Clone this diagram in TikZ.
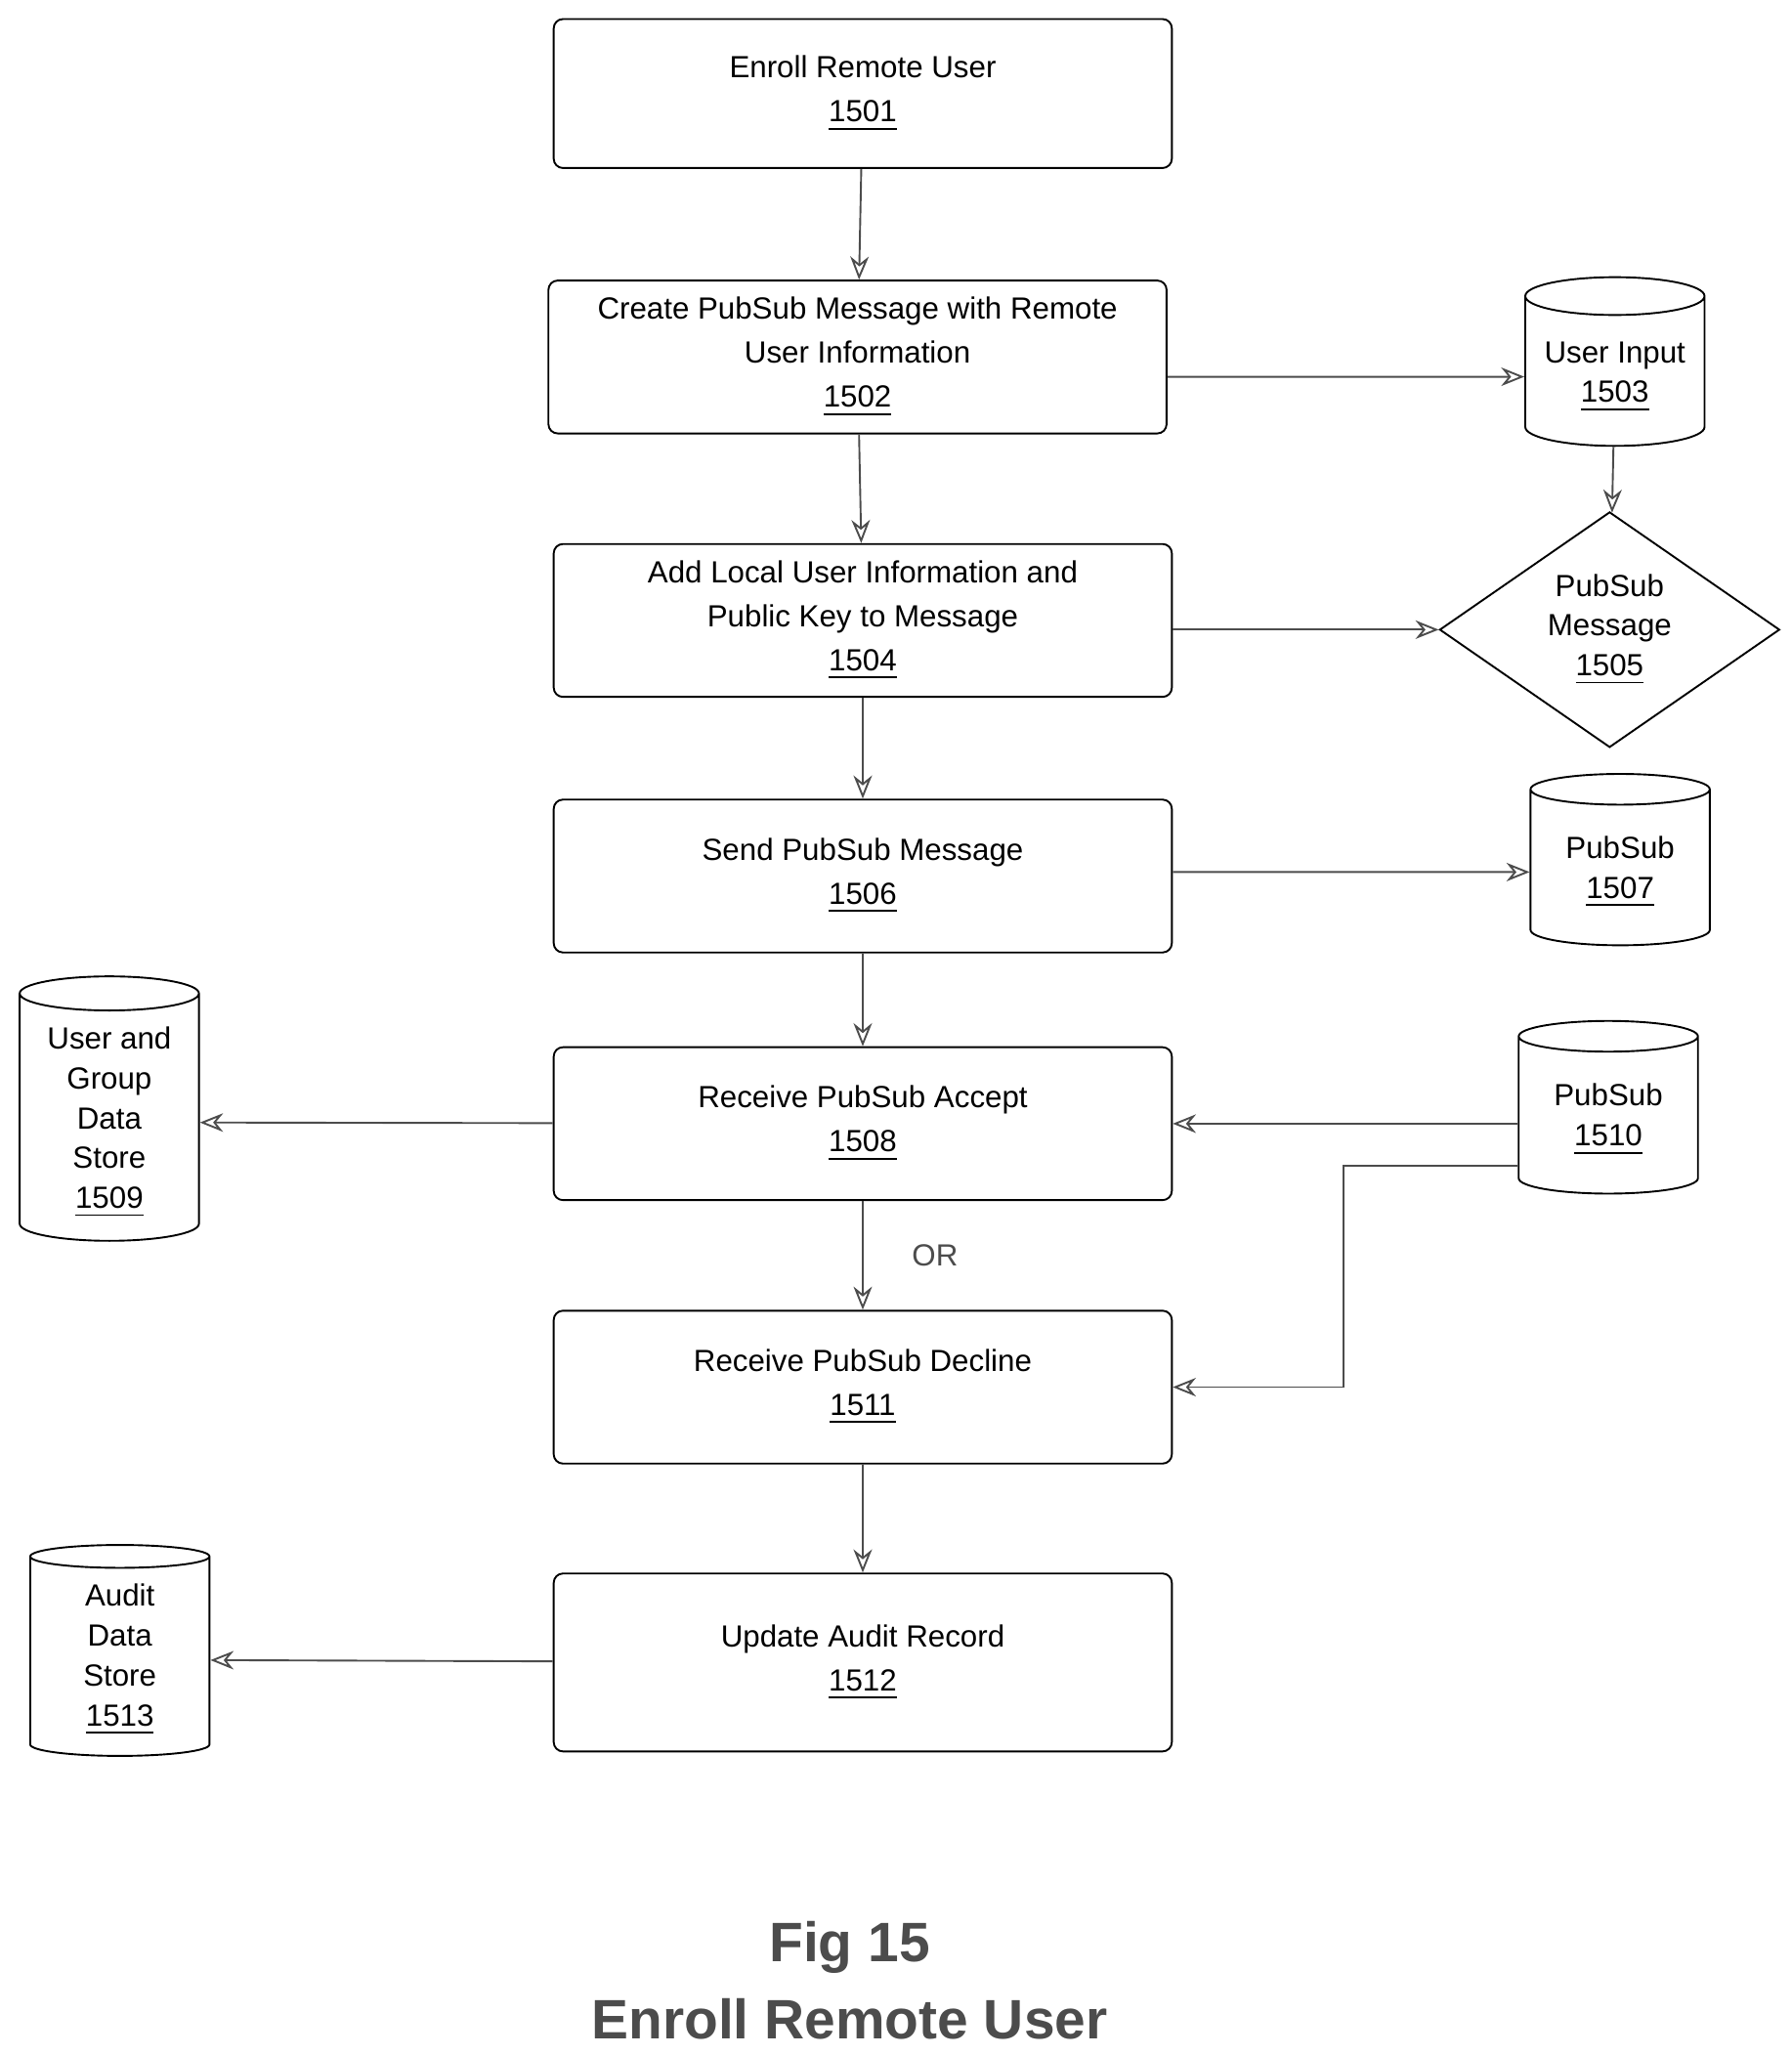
\documentclass[tikz,border=0pt]{standalone}
\usepackage{fontspec}
\setmainfont{Liberation Sans}
\usetikzlibrary{shapes.geometric,arrows.meta}
\tikzset{
  proc/.style={draw, rounded corners=2pt, align=center, font=\fontsize{6.6}{9.5}\selectfont,
    minimum width=4.69cm, minimum height=1.16cm, inner xsep=1pt},
  store/.style={draw, cylinder, shape border rotate=90, aspect=0.22, align=center,
    font=\fontsize{6.6}{8.6}\selectfont, minimum width=1.36cm},
  flow/.style={->, >={Stealth[open,length=5pt,width=4pt]}, gray!60!black}
}
\newcommand{\num}[1]{\underline{#1}}
\begin{document}
\begin{tikzpicture}[x=0.01cm, y=-0.01cm]
  \useasboundingbox (0,0) rectangle (1360,1560);
  % process steps
  \node[proc, minimum height=1.13cm] (s1501) at (655,71) {Enroll Remote User\\\num{1501}};
  \node[proc] (s1502) at (651,271) {Create PubSub Message with Remote\\User Information\\\num{1502}};
  \node[proc] (s1504) at (655,471) {Add Local User Information and\\Public Key to Message\\\num{1504}};
  \node[proc] (s1506) at (655,665) {Send PubSub Message\\\num{1506}};
  \node[proc] (s1508) at (655,853) {Receive PubSub Accept\\\num{1508}};
  \node[proc] (s1511) at (655,1053) {Receive PubSub Decline\\\num{1511}};
  \node[proc, minimum height=1.35cm] (s1512) at (655,1262) {Update Audit Record\\\num{1512}};
  % stores
  \node[store, minimum height=1.28cm] (d1503) at (1226,286) {User Input\\\num{1503}};
  \node[draw, diamond, inner sep=0pt, minimum width=2.58cm, minimum height=1.31cm, align=center,
    font=\fontsize{6.6}{8.6}\selectfont] (d1505) at (1222,478) {PubSub\\Message\\\num{1505}};
  \node[store, minimum height=1.30cm] (d1507) at (1230,662) {PubSub\\\num{1507}};
  \node[store, minimum height=2.0cm] (d1509) at (83,852) {User and\\Group\\Data\\Store\\\num{1509}};
  \node[store, minimum height=1.31cm] (d1510) at (1221,850) {PubSub\\\num{1510}};
  \node[store, minimum height=1.6cm] (d1513) at (91,1260) {Audit\\Data\\Store\\\num{1513}};
  % connectors
  \draw[flow] (s1501) -- (s1502);
  \draw[flow] (s1502) -- (s1504);
  \draw[flow] (s1504) -- (s1506);
  \draw[flow] (s1506) -- (s1508);
  \draw[flow] (s1508) -- node[right=0.25cm, font=\fontsize{6.6}{8}\selectfont] {OR} (s1511);
  \draw[flow] (s1511) -- (s1512);
  \draw[flow] (s1502.east |- d1503) -- (d1503);
  \draw[flow] (d1503) -- (d1505);
  \draw[flow] (s1504.east |- d1505) -- (d1505);
  \draw[flow] (s1506.east |- d1507) -- (d1507);
  \draw[flow] (s1508) -- (d1509);
  \draw[flow] (d1510.west |- s1508) -- (s1508);
  \coordinate (bend) at (1020,885);
  \draw[flow] (d1510.west |- bend) -- (bend) |- (s1511);
  \draw[flow] (s1512) -- (d1513);
  % caption
  \node[font=\bfseries\fontsize{12}{14}\selectfont, gray!60!black] (fig) at (645,1478) {Fig 15};
  \node[font=\bfseries\fontsize{12}{14}\selectfont, gray!60!black] (cap) at (645,1533) {Enroll Remote User};
\end{tikzpicture}
\end{document}
